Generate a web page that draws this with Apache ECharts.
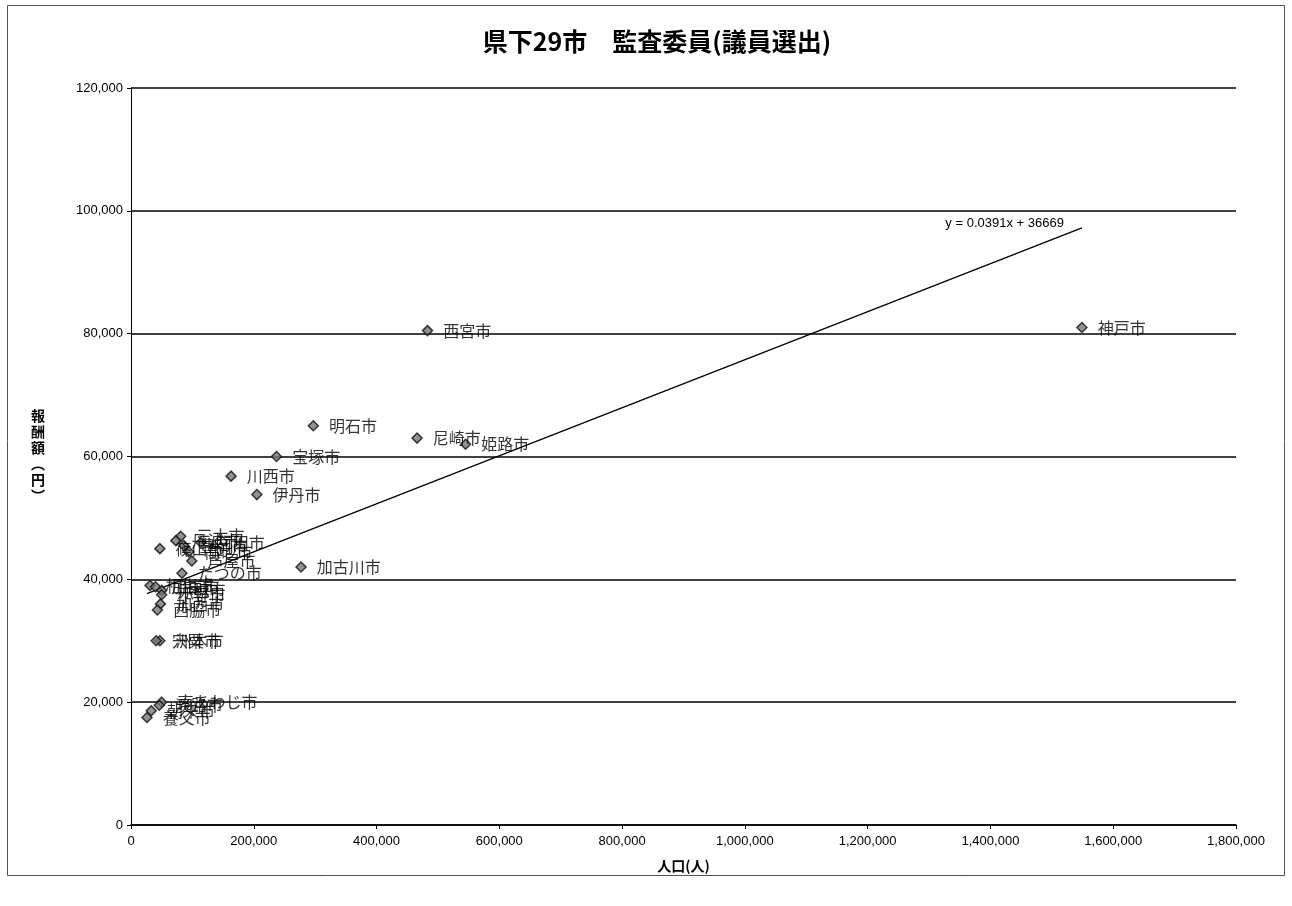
<!DOCTYPE html>
<html>
<head>
<meta charset="utf-8">
<script src="https://cdn.jsdelivr.net/npm/echarts@6/dist/echarts.min.js"></script>
<style>
html,body{margin:0;padding:0;background:#fff;}
#c{width:1292px;height:906px;}
</style>
</head>
<body>
<div id="c"></div>
<script>
// ---- data ----
const cities = ['神戸市','西宮市','明石市','尼崎市','姫路市','宝塚市','川西市','伊丹市','加古川市',
  '三木市','三田市','丹波市','豊岡市','篠山市','高砂市','芦屋市','たつの市',
  '相生市','加東市','赤穂市','小野市','加西市','西脇市','洲本市','宍粟市',
  '南あわじ市','淡路市','朝来市','養父市'];
const population = [1549000,483000,297000,466000,545000,237000,163000,205000,277000,
  81000,114000,73000,86000,47000,94000,99000,83000,
  31000,40000,50000,50000,48000,43000,47000,41000,
  50000,46000,33000,26000];
const fee = [81000,80500,65000,63000,62000,60000,56800,53800,42000,
  47000,46000,46300,45500,45000,44500,43000,41000,
  39000,38800,38200,37500,36000,35000,30000,30000,
  20000,19500,18600,17500];
const trendSlope = 0.0391;
const trendIntercept = 36669;
const trendLabel = 'y = 0.0391x + 36669';
const xTicks = {min:0, max:1800000, interval:200000};
const yTicks = {min:0, max:120000, interval:20000};

const pts = cities.map((c,i)=>[population[i], fee[i], c]);
const xMin = Math.min(...population), xMax = Math.max(...population);
const trend = [[xMin, trendSlope*xMin+trendIntercept],[xMax, trendSlope*xMax+trendIntercept]];

const fmt = v => v.toLocaleString('en-US');
const chart = echarts.init(document.getElementById('c'));
chart.setOption({
  backgroundColor:'#fff',
  animation:false,
  title:{text:'県下29市　監査委員(議員選出)', left:652, top:24, textAlign:'center',
    textStyle:{fontFamily:'Noto Sans CJK JP', fontSize:25, fontWeight:'bold', color:'#000'}},
  grid:{left:131, right:56, top:88, bottom:81},
  xAxis:{type:'value', min:xTicks.min, max:xTicks.max, interval:xTicks.interval,
    name:'人口(人)', nameLocation:'middle', nameGap:34,
    nameTextStyle:{fontFamily:'Noto Sans CJK JP', fontSize:14, fontWeight:'bold', color:'#000'},
    axisLine:{show:true, lineStyle:{color:'#000', width:1.5}},
    axisTick:{show:true, length:4, lineStyle:{color:'#000'}},
    axisLabel:{formatter:fmt, color:'#000', fontFamily:'Liberation Sans', fontSize:13, margin:10},
    splitLine:{show:false}},
  yAxis:{type:'value', min:yTicks.min, max:yTicks.max, interval:yTicks.interval,
    axisLine:{show:true, lineStyle:{color:'#000', width:1}},
    axisTick:{show:true, length:4, lineStyle:{color:'#000'}},
    axisLabel:{formatter:fmt, color:'#000', fontFamily:'Liberation Sans', fontSize:13, margin:8},
    splitLine:{show:true, lineStyle:{color:'#000', width:1.5}}},
  graphic:[
    {type:'rect', shape:{x:7.5, y:5.5, width:1277, height:870}, style:{fill:'none', stroke:'#555', lineWidth:1}, silent:true},
    {type:'text', left:31, top:408, style:{text:'報\n酬\n額\n︵\n円\n︶', fontFamily:'Noto Sans CJK JP', fontSize:14, fontWeight:'bold', fill:'#000', lineHeight:16}}
  ],
  series:[
    {type:'line', data:trend, symbol:'none', silent:true,
      lineStyle:{color:'#000', width:1.3},
      markPoint:{symbol:'circle', symbolSize:0,
        label:{show:true, formatter:trendLabel, position:'left', distance:18, offset:[0,-4],
          fontFamily:'Liberation Sans', fontSize:13, color:'#000'},
        data:[{coord:trend[1]}]},
      z:3},
    {type:'scatter', data:pts, symbol:'diamond', symbolSize:10,
      itemStyle:{color:'#777', borderColor:'#111', borderWidth:1.5},
      label:{show:true, position:'right', distance:10, formatter:p=>p.data[2],
        fontFamily:'Noto Sans CJK JP', fontSize:16, color:'#000'},
      z:4}
  ]
});
</script>
</body>
</html>
